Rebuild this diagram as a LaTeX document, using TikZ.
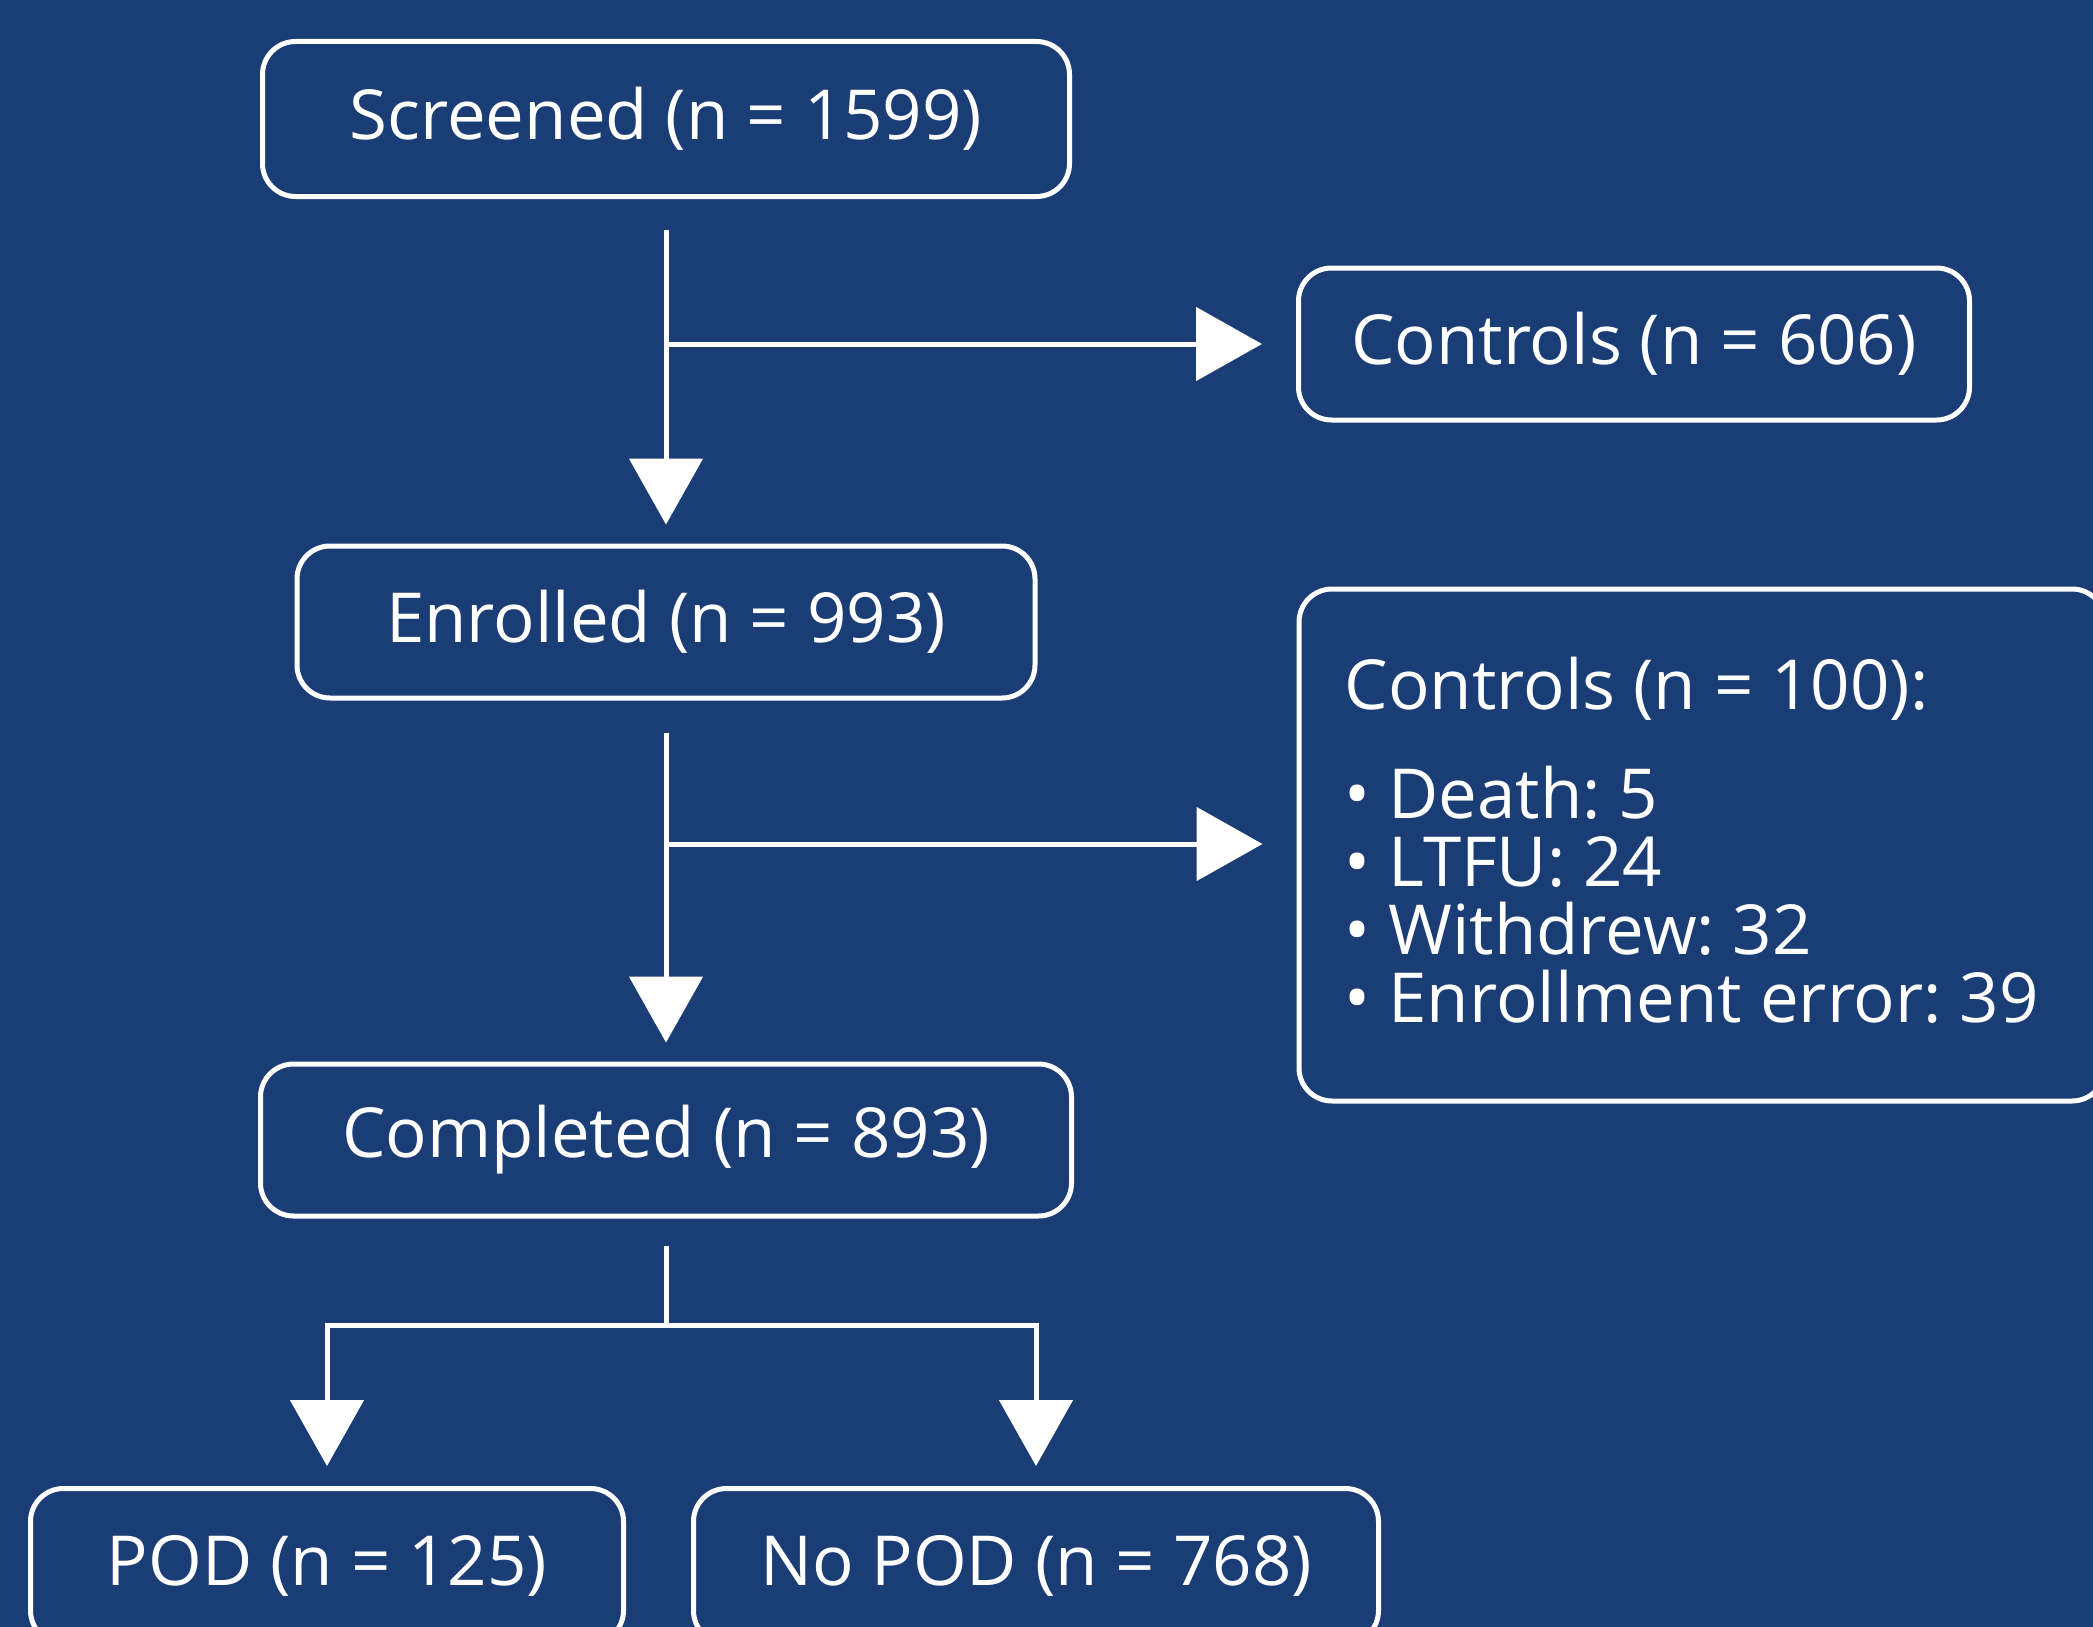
\documentclass[tikz,border=0pt]{standalone}
\usepackage{fontspec}
\setmainfont{Open Sans}
\usetikzlibrary{arrows.meta}
\definecolor{bg}{HTML}{1A3D75}
\frenchspacing
\begin{document}
\begin{tikzpicture}[x=1pt,y=-1pt,
  box/.style={draw=white, line width=5pt, rounded corners=33pt, fill=bg, text=white,
    font=\fontsize{69}{68}\selectfont, inner sep=0pt},
  conn/.style={draw=white, line width=5pt},
  arr/.style={conn, -{Triangle[width=73pt,length=66pt]}}]
\fill[bg] (0,0) rectangle (2093,1627);
\useasboundingbox (0,0) rectangle (2093,1627);
\node[box, minimum width=807pt, minimum height=155pt] (scr) at (666,119) {Screened (n = 1599)};
\node[box, minimum width=671pt, minimum height=152pt] (c1) at (1634,344) {Controls (n = 606)};
\node[box, minimum width=738pt, minimum height=152pt] (enr) at (666,622) {Enrolled (n = 993)};
\node[box, minimum width=806pt, minimum height=512pt] (c2) at (1702,845) {};
\node[text=white, font=\fontsize{69}{68}\selectfont, inner sep=0pt, align=left, anchor=west] (c2t)
  at ([xshift=48pt,yshift=5pt]c2.west)
  {Controls (n = 100):\\[41pt]
   • Death: 5\\
   • LTFU: 24\\
   • Withdrew: 32\\
   • Enrollment error: 39};
\node[box, minimum width=811pt, minimum height=152pt] (comp) at (666,1140) {Completed (n = 893)};
\node[box, minimum width=593pt, minimum height=155pt] (pod) at (327,1566) {POD (n = 125)};
\node[box, minimum width=685pt, minimum height=155pt] (npod) at (1036,1566) {No POD (n = 768)};
\coordinate (b1) at (666,344);
\coordinate (b2) at (666,844);
\coordinate (j) at (666,1325);
\draw[arr] ([yshift=-31pt]scr.south) -- ([yshift=19pt]enr.north);
\draw[arr] (b1) -- ([xshift=-34pt]c1.west |- b1);
\draw[arr] ([yshift=-32pt]enr.south) -- ([yshift=19pt]comp.north);
\draw[arr] (b2) -- ([xshift=-34pt]c2.west |- b2);
\draw[conn] ([yshift=-27pt]comp.south) -- (j);
\draw[arr] (j) -| ([yshift=20pt]pod.north);
\draw[arr] (j) -| ([yshift=20pt]npod.north);
\end{tikzpicture}
\end{document}
